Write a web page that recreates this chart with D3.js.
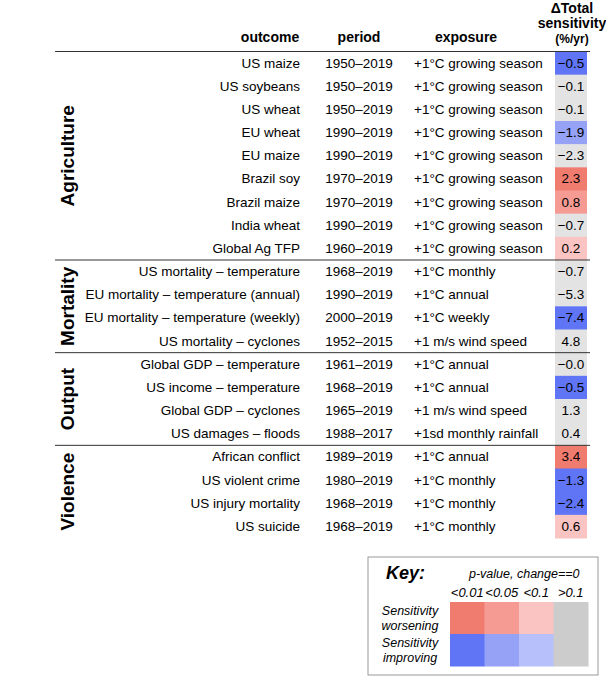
<!DOCTYPE html>
<html><head><meta charset="utf-8">
<script src="https://cdn.jsdelivr.net/npm/d3@7"></script>
<style>body{margin:0;background:#fff}text{font-family:"Liberation Sans",Arial,sans-serif}</style>
</head><body><svg id="c" width="606" height="680"></svg>
<script>
const outcomes = ["US maize","US soybeans","US wheat","EU wheat","EU maize","Brazil soy","Brazil maize","India wheat","Global Ag TFP",
  "US mortality \u2013 temperature","EU mortality \u2013 temperature (annual)","EU mortality \u2013 temperature (weekly)","US mortality \u2013 cyclones",
  "Global GDP \u2013 temperature","US income \u2013 temperature","Global GDP \u2013 cyclones","US damages \u2013 floods",
  "African conflict","US violent crime","US injury mortality","US suicide"];
const periods = ["1950\u20132019","1950\u20132019","1950\u20132019","1990\u20132019","1990\u20132019","1970\u20132019","1970\u20132019","1990\u20132019","1960\u20132019",
  "1968\u20132019","1990\u20132019","2000\u20132019","1952\u20132015",
  "1961\u20132019","1968\u20132019","1965\u20132019","1988\u20132017",
  "1989\u20132019","1980\u20132019","1968\u20132019","1968\u20132019"];
const GS = "+1\u00b0C growing season";
const exposures = [GS,GS,GS,GS,GS,GS,GS,GS,GS,
  "+1\u00b0C monthly","+1\u00b0C annual","+1\u00b0C weekly","+1 m/s wind speed",
  "+1\u00b0C annual","+1\u00b0C annual","+1 m/s wind speed","+1sd monthly rainfall",
  "+1\u00b0C annual","+1\u00b0C monthly","+1\u00b0C monthly","+1\u00b0C monthly"];
const values = ["\u22120.5","\u22120.1","\u22120.1","\u22121.9","\u22122.3","2.3","0.8","\u22120.7","0.2",
  "\u22120.7","\u22125.3","\u22127.4","4.8",
  "\u22120.0","\u22120.5","1.3","0.4",
  "3.4","\u22121.3","\u22122.4","0.6"];
// significance class: w1..w3 worsening, i1..i3 improving, n = not significant
const sig = ["i1","n","n","i2","n","w1","w2","n","w3",
  "n","n","i1","n",
  "n","i1","n","n",
  "w1","i1","i1","w3"];
const groups = [{name:"Agriculture",n:9},{name:"Mortality",n:4},{name:"Output",n:4},{name:"Violence",n:4}];
const keyCols = ["<0.01","<0.05","<0.1",">0.1"];
const keyRows = [["w1","w2","w3","key"],["i1","i2","i3","key"]];

const colors = {w1:"#f07c70",w2:"#f59b94",w3:"#fac4c2",i1:"#5f75f5",i2:"#95a2f5",i3:"#b7c0fb",n:"#e3e3e3",key:"#cccccc"};

const svg = d3.select("#c");
const y = d3.scaleBand().domain(d3.range(outcomes.length)).range([51.5, 538]);
const bh = y.bandwidth();

// header
const hdr = [{t:"outcome",x:270},{t:"period",x:359},{t:"exposure",x:466}];
svg.selectAll(".h").data(hdr).join("text").attr("x",d=>d.x).attr("y",42).attr("text-anchor","middle")
  .attr("font-weight","bold").attr("font-size",14).text(d=>d.t);
svg.selectAll(".h2").data(["\u0394Total","sensitivity","(%/yr)"]).join("text")
  .attr("x",572).attr("y",(d,i)=>13+i*15).attr("text-anchor","middle").attr("font-weight","bold")
  .attr("font-size",(d,i)=>i<2?14:12).text(d=>d);

// cells
svg.selectAll("rect.cell").data(d3.range(outcomes.length)).join("rect")
  .attr("x",555).attr("y",i=>y(i)).attr("width",32).attr("height",bh+0.5).attr("fill",i=>colors[sig[i]]);

const rows = svg.selectAll("g.row").data(d3.range(outcomes.length)).join("g")
  .attr("transform",i=>`translate(0,${y(i)+bh/2+4.5})`).attr("font-size",13.5);
rows.append("text").attr("x",300).attr("text-anchor","end").text(i=>outcomes[i]);
rows.append("text").attr("x",359).attr("text-anchor","middle").text(i=>periods[i]);
rows.append("text").attr("x",414).text(i=>exposures[i]);
rows.append("text").attr("x",571).attr("text-anchor","middle").text(i=>values[i]);

// group lines and labels
let start = 0;
const lines = [0];
groups.forEach(g=>{ g.s=start; start+=g.n; lines.push(start); });
svg.selectAll("line.sep").data(lines.slice(0,-1)).join("line")
  .attr("x1",55).attr("x2",590).attr("y1",d=>y(d)).attr("y2",d=>y(d))
  .attr("stroke","#333").attr("stroke-width",1);
svg.selectAll("text.grp").data(groups).join("text")
  .attr("transform",g=>`translate(74,${y(g.s)+g.n*bh/2}) rotate(-90)`)
  .attr("text-anchor","middle").attr("font-weight","bold").attr("font-size",19).text(g=>g.name);

// key
const k = svg.append("g").attr("transform","translate(368,557)");
k.append("rect").attr("width",230).attr("height",118).attr("fill","#fff").attr("stroke","#999");
k.append("text").attr("x",18).attr("y",22).attr("font-size",18).attr("font-weight","bold").attr("font-style","italic").text("Key:");
k.append("text").attr("x",101).attr("y",21).attr("font-size",12.5).attr("font-style","italic").text("p-value, change==0");
const kx = d3.scaleBand().domain(d3.range(4)).range([82,220]);
k.selectAll("text.kc").data(keyCols).join("text").attr("x",(d,i)=>kx(i)+kx.bandwidth()/2).attr("y",40)
  .attr("text-anchor","middle").attr("font-size",13).attr("font-style","italic").text(d=>d);
const ky = d3.scaleBand().domain([0,1]).range([45,109]);
keyRows.forEach((r,j)=>{
  k.selectAll("rect.k"+j).data(r).join("rect").attr("x",(d,i)=>kx(i)).attr("y",ky(j))
    .attr("width",kx.bandwidth()+0.5).attr("height",ky.bandwidth()+0.5).attr("fill",d=>colors[d]);
});
[["Sensitivity","worsening"],["Sensitivity","improving"]].forEach((l,j)=>{
  k.append("text").attr("x",42).attr("y",ky(j)+13).attr("text-anchor","middle").attr("font-size",12.5).attr("font-style","italic")
    .selectAll("tspan").data(l).join("tspan").attr("x",42).attr("dy",(d,i)=>i?15:0).text(d=>d);
});
</script></body></html>
